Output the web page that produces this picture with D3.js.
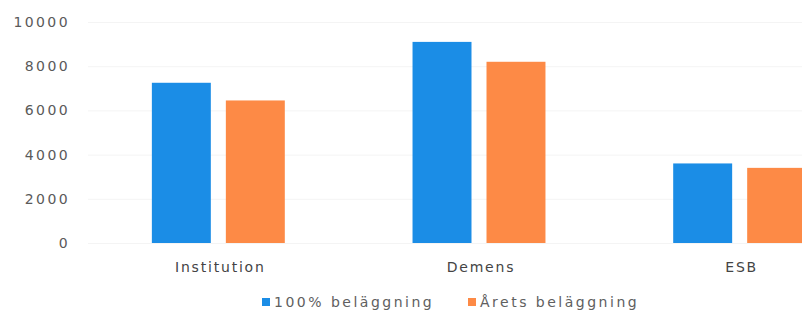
<!DOCTYPE html>
<html>
<head>
<meta charset="utf-8">
<script src="https://cdn.jsdelivr.net/npm/d3@7"></script>
<style>
  body { margin: 0; background: #fff; }
  svg { display: block; font-family: "DejaVu Sans", Verdana, sans-serif; }
</style>
</head>
<body>
<div id="chart"></div>
<script>
var categories = ["Institution", "Demens", "ESB"];
var seriesNames = ["100% beläggning", "Årets beläggning"];
var full = [7250, 9100, 3600];      // 100% beläggning
var actual = [6450, 8200, 3400];    // Årets beläggning
var yTicks = [0, 2000, 4000, 6000, 8000, 10000];
var colors = ["#1b8de6", "#fd8a46"];

var width = 802, height = 313;

var data = categories.map(function(c, i) {
    return { cat: c, values: [full[i], actual[i]] };
});

var svg = d3.select("#chart")
    .append("svg")
        .attr("width", width)
        .attr("height", height);

// scales
var y = d3.scaleLinear()
    .domain([0, 10000])
    .range([243, 22]);

var x0 = d3.scaleBand()
    .domain(categories)
    .range([88, 870])
    .paddingInner(0.49)
    .paddingOuter(0.245);

var x1 = d3.scaleBand()
    .domain([0, 1])
    .range([0, x0.bandwidth()])
    .paddingInner(0.203);

// faint gridlines
svg.append("g")
    .selectAll("line")
    .data(yTicks)
    .enter()
    .append("line")
        .attr("x1", 88)
        .attr("x2", width)
        .attr("y1", function(d) { return y(d) + 0.5; })
        .attr("y2", function(d) { return y(d) + 0.5; })
        .style("stroke", "#f4f4f4");

// Y axis labels
var yAxis = svg.append("g")
    .attr("transform", "translate(70,0)")
    .call(d3.axisLeft(y).tickValues(yTicks).tickSize(0).tickPadding(0).tickFormat(d3.format("d")));
yAxis.select(".domain").remove();
yAxis.selectAll("text")
    .style("font-family", "DejaVu Sans, sans-serif")
    .style("font-size", "14px")
    .style("letter-spacing", "2.4px")
    .style("fill", "#5a5a5a");

// bars
svg.append("g")
    .selectAll("g")
    .data(data)
    .enter()
    .append("g")
        .attr("transform", function(d) { return "translate(" + x0(d.cat) + ",0)"; })
    .selectAll("rect")
    .data(function(d) { return d.values; })
    .enter()
    .append("rect")
        .attr("x", function(d, i) { return x1(i); })
        .attr("y", function(d) { return y(d); })
        .attr("width", x1.bandwidth())
        .attr("height", function(d) { return y(0) - y(d); })
        .style("fill", function(d, i) { return colors[i]; });

// category labels
var xAxis = svg.append("g")
    .attr("transform", "translate(2,262)")
    .call(d3.axisBottom(x0).tickSize(0).tickPadding(0));
xAxis.select(".domain").remove();
xAxis.selectAll("text")
    .style("font-family", "DejaVu Sans, sans-serif")
    .style("font-size", "14px")
    .style("letter-spacing", "1.8px")
    .style("fill", "#444");

// legend
var legendX = [262, 468];
var legend = svg.append("g");
legend.selectAll("rect")
    .data(seriesNames)
    .enter()
    .append("rect")
        .attr("x", function(d, i) { return legendX[i]; })
        .attr("y", 298)
        .attr("width", 8)
        .attr("height", 8)
        .style("fill", function(d, i) { return colors[i]; });
legend.selectAll("text")
    .data(seriesNames)
    .enter()
    .append("text")
        .attr("x", function(d, i) { return legendX[i] + 12; })
        .attr("y", 302)
        .attr("dy", "0.35em")
        .style("font-size", "14px")
        .style("letter-spacing", "2.5px")
        .style("fill", "#606060")
        .text(function(d) { return d; });
</script>
</body>
</html>
